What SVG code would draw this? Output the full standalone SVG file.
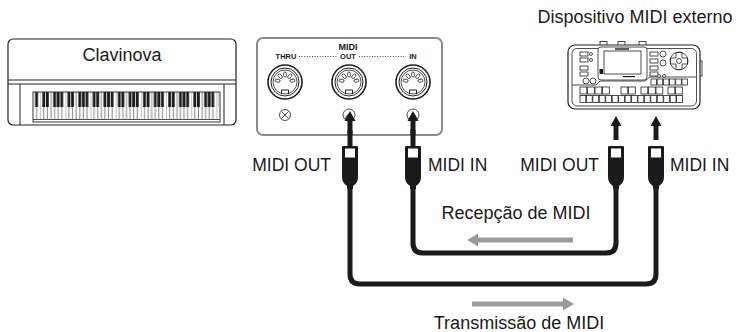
<svg xmlns="http://www.w3.org/2000/svg" xmlns:xlink="http://www.w3.org/1999/xlink" width="740" height="332" viewBox="0 0 740 332">
  <style>
    .lbl { font-family: "Liberation Sans", Arial, Helvetica, sans-serif; fill: #1a1a1a; }
    .panel { font-family: "Liberation Sans", Arial, sans-serif; font-weight: bold; fill: #1a1a1a; text-anchor: middle; }
    .ln { fill: none; stroke: #222; stroke-width: 1; }
    .thin { fill: none; stroke: #222; stroke-width: 0.8; }
    .wf { fill: #fff; stroke: #222; stroke-width: 0.8; }
    .cable { fill: none; stroke: #1a1a1a; stroke-width: 5; }
    .blk { fill: #1a1a1a; }
    .gray { fill: #9a9a9a; }
  </style>
  <defs>
    <!-- one octave of piano keys, starting at C -->
    <pattern id="keys" patternUnits="userSpaceOnUse" x="40.19" y="92" width="25.173" height="60">
      <path d="M0,0V28 M3.596,0V28 M7.192,0V28 M10.788,0V28 M14.384,0V28 M17.98,0V28 M21.577,0V28" stroke="#333" stroke-width="0.6" fill="none"/>
      <rect x="2.196" y="0" width="2.8" height="15" fill="#1a1a1a"/>
      <rect x="5.792" y="0" width="2.8" height="15" fill="#1a1a1a"/>
      <rect x="12.984" y="0" width="2.8" height="15" fill="#1a1a1a"/>
      <rect x="16.58" y="0" width="2.8" height="15" fill="#1a1a1a"/>
      <rect x="20.176" y="0" width="2.8" height="15" fill="#1a1a1a"/>
    </pattern>
    <!-- DIN socket pin -->
    <rect id="pin" x="5" y="-1.4" width="5" height="2.8" rx="1.4" fill="#fff" stroke="#222" stroke-width="0.8"/>
    <!-- 5-pin DIN socket -->
    <g id="din">
      <circle r="17" fill="#fff" stroke="#222" stroke-width="1.6"/>
      <circle r="14" fill="none" stroke="#222" stroke-width="1"/>
      <circle r="12" fill="none" stroke="#222" stroke-width="0.8"/>
      <use xlink:href="#pin" transform="rotate(190)"/>
      <use xlink:href="#pin" transform="rotate(230)"/>
      <use xlink:href="#pin" transform="rotate(270)"/>
      <use xlink:href="#pin" transform="rotate(310)"/>
      <use xlink:href="#pin" transform="rotate(350)"/>
      <path d="M-3.5,12 V8 H3.5 V12" fill="none" stroke="#222" stroke-width="1"/>
    </g>
    <!-- cable plug, origin at top centre -->
    <g id="plug">
      <path d="M-8,1 Q-8,0 -7,0 H7 Q8,0 8,1 V31 Q8,37 3,40 V43 H-3 V40 Q-8,37 -8,31 Z" fill="#1a1a1a"/>
      <rect x="-5" y="2.5" width="10" height="9" fill="#fff"/>
    </g>
    <!-- small black direction arrow, origin at tip -->
    <path id="uparrow" d="M0,0 L5.5,10 H2.5 V24 H-2.5 V10 H-5.5 Z" fill="#1a1a1a"/>
  </defs>

  <!-- Clavinova -->
  <g id="clavinova">
    <rect x="8" y="39" width="228" height="86" rx="5" fill="#fff" stroke="#222" stroke-width="1.2"/>
    <path class="ln" d="M8,80 H236 M8,84 H236 M20,84 V125 M224,84 V125"/>
    <rect x="33" y="92" width="187" height="30" fill="#fff" stroke="#222" stroke-width="0.9"/>
    <rect x="34.6" y="92" width="183.8" height="27.5" fill="url(#keys)"/>
    <path class="thin" d="M33,119.5 H220"/>
    <text class="lbl" x="122" y="61" font-size="18" text-anchor="middle">Clavinova</text>
  </g>

  <!-- MIDI terminal panel -->
  <g id="midi-panel">
    <rect x="257" y="38" width="185" height="97" rx="6" fill="#fff" stroke="#8a8a8a" stroke-width="2"/>
    <text class="panel" x="348" y="50" font-size="9">MIDI</text>
    <text class="panel" x="286" y="59" font-size="7.5">THRU</text>
    <text class="panel" x="348" y="59" font-size="7.5">OUT</text>
    <text class="panel" x="413" y="59" font-size="7.5">IN</text>
    <path d="M299,56.5 H338 M359,56.5 H406" fill="none" stroke="#333" stroke-width="0.9" stroke-dasharray="1 1.6"/>
    <use xlink:href="#din" x="285" y="82"/>
    <use xlink:href="#din" x="349" y="82"/>
    <use xlink:href="#din" x="413" y="82"/>
    <circle cx="285" cy="115" r="5.5" class="wf"/>
    <path class="thin" d="M281.5,111.5 L288.5,118.5 M288.5,111.5 L281.5,118.5"/>
    <circle cx="349" cy="115" r="6" class="wf"/>
    <path class="thin" d="M345,119 Q349,109 353,119"/>
    <circle cx="413" cy="115" r="6" class="wf"/>
    <path class="thin" d="M409,119 Q413,109 417,119"/>
  </g>

  <!-- External MIDI device -->
  <g id="device">
    <text class="lbl" x="635" y="23" font-size="18" text-anchor="middle">Dispositivo MIDI externo</text>
    <rect x="600" y="41.5" width="7" height="4" class="wf"/>
    <rect x="618" y="41.5" width="7" height="4" class="wf"/>
    <rect x="639" y="41.5" width="7" height="4" class="wf"/>
    <rect x="698" y="61" width="4" height="15" class="wf"/>
    <rect x="568" y="45" width="132" height="64" rx="7" fill="#fff" stroke="#222" stroke-width="1.2"/>
    <rect x="572" y="48.5" width="124.5" height="57.5" rx="5" class="thin"/>
    <path class="thin" d="M572,85 H596 L600,81 H645 L650,77 H696"/>
    <rect x="598" y="47" width="49" height="33" rx="3" class="wf"/>
    <rect x="604" y="51" width="37" height="23" class="wf"/>
    <rect x="615" y="48.3" width="14" height="1.4" class="blk"/>
    <rect x="623" y="76" width="12" height="1.2" class="blk"/>
    <rect x="599.5" y="69" width="3.5" height="5" class="blk"/>
    <!-- left controls -->
    <rect x="580" y="52" width="8" height="4" class="wf"/>
    <rect x="580" y="58" width="8" height="4" class="wf"/>
    <rect x="580" y="66" width="8" height="4" class="wf"/>
    <rect x="580" y="72" width="8" height="4" class="wf"/>
    <circle cx="591" cy="54" r="1.5" class="wf"/>
    <circle cx="591" cy="60" r="1.5" class="wf"/>
    <circle cx="586" cy="81" r="3" class="wf"/>
    <circle cx="593" cy="81" r="3" class="wf"/>
    <!-- right controls -->
    <rect x="650" y="52" width="8" height="4" class="wf"/>
    <rect x="650" y="59" width="8" height="4" class="wf"/>
    <rect x="650" y="66" width="8" height="4" class="wf"/>
    <rect x="650" y="72" width="8" height="4" class="wf"/>
    <circle cx="663" cy="54" r="3" class="wf"/>
    <circle cx="663" cy="63" r="3" class="wf"/>
    <circle cx="659" cy="76" r="1.5" class="wf"/>
    <circle cx="664" cy="76" r="1.5" class="wf"/>
    <circle cx="679" cy="61" r="9" class="wf"/>
    <path class="thin" d="M676,52.5 H682 V58 H687.5 V64 H682 V69.5 H676 V64 H670.5 V58 H676 Z"/>
    <circle cx="679" cy="61" r="2.5" class="wf"/>
    <!-- button rows -->
    <g class="wf">
      <rect x="651" y="79" width="5.5" height="6"/>
      <rect x="657.2" y="79" width="5.5" height="6"/>
      <rect x="663.4" y="79" width="5.5" height="6"/>
      <rect x="669.6" y="79" width="5.5" height="6"/>
      <rect x="675.8" y="79" width="5.5" height="6"/>
      <rect x="682" y="79" width="5.5" height="6"/>

      <rect x="580" y="87" width="6.8" height="7"/>
      <rect x="587.5" y="87" width="6.8" height="7"/>
      <rect x="595" y="87" width="6.8" height="7"/>
      <rect x="602.5" y="87" width="6.8" height="7"/>
      <rect x="621" y="87" width="6.8" height="7"/>
      <rect x="628.5" y="87" width="6.8" height="7"/>
      <rect x="641" y="87" width="6.8" height="7"/>
      <rect x="648.5" y="87" width="6.8" height="7"/>
      <rect x="656" y="87" width="6.8" height="7"/>
      <rect x="668" y="87" width="6.8" height="7"/>
      <rect x="675.5" y="87" width="6.8" height="7"/>

      <rect x="580" y="95.5" width="5.8" height="7"/>
      <rect x="586.44" y="95.5" width="5.8" height="7"/>
      <rect x="592.88" y="95.5" width="5.8" height="7"/>
      <rect x="599.32" y="95.5" width="5.8" height="7"/>
      <rect x="605.76" y="95.5" width="5.8" height="7"/>
      <rect x="612.2" y="95.5" width="5.8" height="7"/>
      <rect x="618.64" y="95.5" width="5.8" height="7"/>
      <rect x="625.08" y="95.5" width="5.8" height="7"/>
      <rect x="631.52" y="95.5" width="5.8" height="7"/>
      <rect x="637.96" y="95.5" width="5.8" height="7"/>
      <rect x="644.4" y="95.5" width="5.8" height="7"/>
      <rect x="650.84" y="95.5" width="5.8" height="7"/>
      <rect x="657.28" y="95.5" width="5.8" height="7"/>
      <rect x="663.72" y="95.5" width="5.8" height="7"/>
      <rect x="670.16" y="95.5" width="5.8" height="7"/>
      <rect x="676.6" y="95.5" width="5.8" height="7"/>
    </g>
  </g>

  <!-- MIDI cables -->
  <g id="connectors">
    <path class="cable" d="M350,188 V274 Q350,284 360,284 H646 Q656,284 656,274 V188"/>
    <path class="cable" d="M413,188 V243 Q413,253 423,253 H606 Q616,253 616,243 V188"/>
    <use xlink:href="#uparrow" x="350" y="111"/>
    <use xlink:href="#uparrow" x="413" y="111"/>
    <use xlink:href="#uparrow" x="616" y="116"/>
    <use xlink:href="#uparrow" x="656" y="116"/>
    <rect x="347.5" y="130" width="5" height="17" class="blk"/>
    <rect x="410.5" y="130" width="5" height="17" class="blk"/>
    <use xlink:href="#plug" x="350" y="146"/>
    <use xlink:href="#plug" x="413" y="146"/>
    <use xlink:href="#plug" x="616" y="146"/>
    <use xlink:href="#plug" x="656" y="146"/>
    <path class="gray" d="M467,240 L478,233.5 V237.5 H573 V242.5 H478 V246.5 Z"/>
    <path class="gray" d="M574,304 L563,297.5 V301.5 H472 V306.5 H563 V310.5 Z"/>
  </g>

  <!-- labels -->
  <text class="lbl" x="331" y="171" font-size="17.5" text-anchor="end">MIDI OUT</text>
  <text class="lbl" x="428" y="171" font-size="17.5">MIDI IN</text>
  <text class="lbl" x="599" y="171" font-size="17.5" text-anchor="end">MIDI OUT</text>
  <text class="lbl" x="670" y="171" font-size="17.5">MIDI IN</text>
  <text class="lbl" x="516" y="219" font-size="18" text-anchor="middle">Recepção de MIDI</text>
  <text class="lbl" x="519" y="329" font-size="18" text-anchor="middle">Transmissão de MIDI</text>
</svg>
